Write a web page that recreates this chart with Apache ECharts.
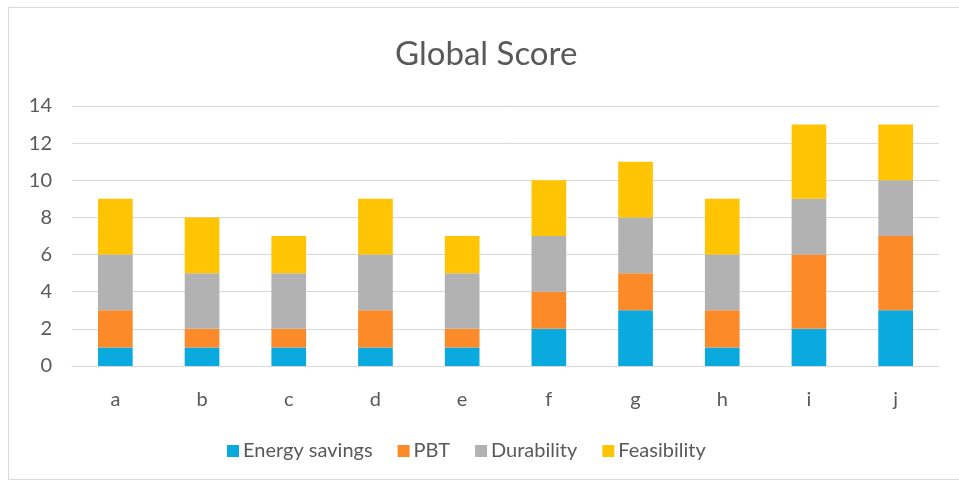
<!DOCTYPE html>
<html><head><meta charset="utf-8">
<script src="https://cdn.jsdelivr.net/npm/echarts@6/dist/echarts.min.js"></script>
<style>html,body{margin:0;padding:0;background:#fff}#c{width:959px;height:484px}</style>
</head><body><div id="c"></div>
<script>
const categories = ['a','b','c','d','e','f','g','h','i','j'];
const energySavings = [1,1,1,1,1,2,3,1,2,3];
const pbt = [2,1,1,2,1,2,2,2,4,4];
const durability = [3,3,3,3,3,3,3,3,3,3];
const feasibility = [3,3,2,3,2,3,3,3,4,3];
const seriesNames = ['Energy savings','PBT','Durability','Feasibility'];
const colors = ['#0AAADF','#FC8A28','#B2B2B2','#FFC404'];
const font = 'Lato, Carlito, Calibri, sans-serif';
const chart = echarts.init(document.getElementById('c'));
const data = [energySavings, pbt, durability, feasibility];
chart.setOption({
  animation:false,
  graphic:[{type:'rect',shape:{x:8.5,y:7.5,width:960,height:472},style:{fill:'none',stroke:'#D9D9D9',lineWidth:1}}],
  title:{text:'Global Score',left:395,top:38,padding:0,textStyle:{fontFamily:font,fontSize:33,fontWeight:'normal',color:'#595959'}},
  legend:{bottom:18,left:222,itemWidth:12,itemHeight:12,itemGap:25,icon:'rect',
    textStyle:{fontFamily:font,fontSize:20,color:'#595959',padding:[0,0,0,-1]},data:seriesNames},
  grid:{left:72,right:20,top:106,bottom:118},
  xAxis:{type:'category',data:categories,axisTick:{show:false},
    axisLine:{lineStyle:{color:'#D9D9D9'}},
    axisLabel:{fontFamily:font,fontSize:20,color:'#595959',margin:24}},
  yAxis:{type:'value',min:0,max:14,interval:2,
    axisLabel:{fontFamily:font,fontSize:20,color:'#595959',margin:20},
    splitLine:{lineStyle:{color:'#D9D9D9'}}},
  series: seriesNames.map((n,i)=>({name:n,type:'bar',stack:'s',barWidth:'40%',data:data[i],itemStyle:{color:colors[i]}}))
});
</script></body></html>
